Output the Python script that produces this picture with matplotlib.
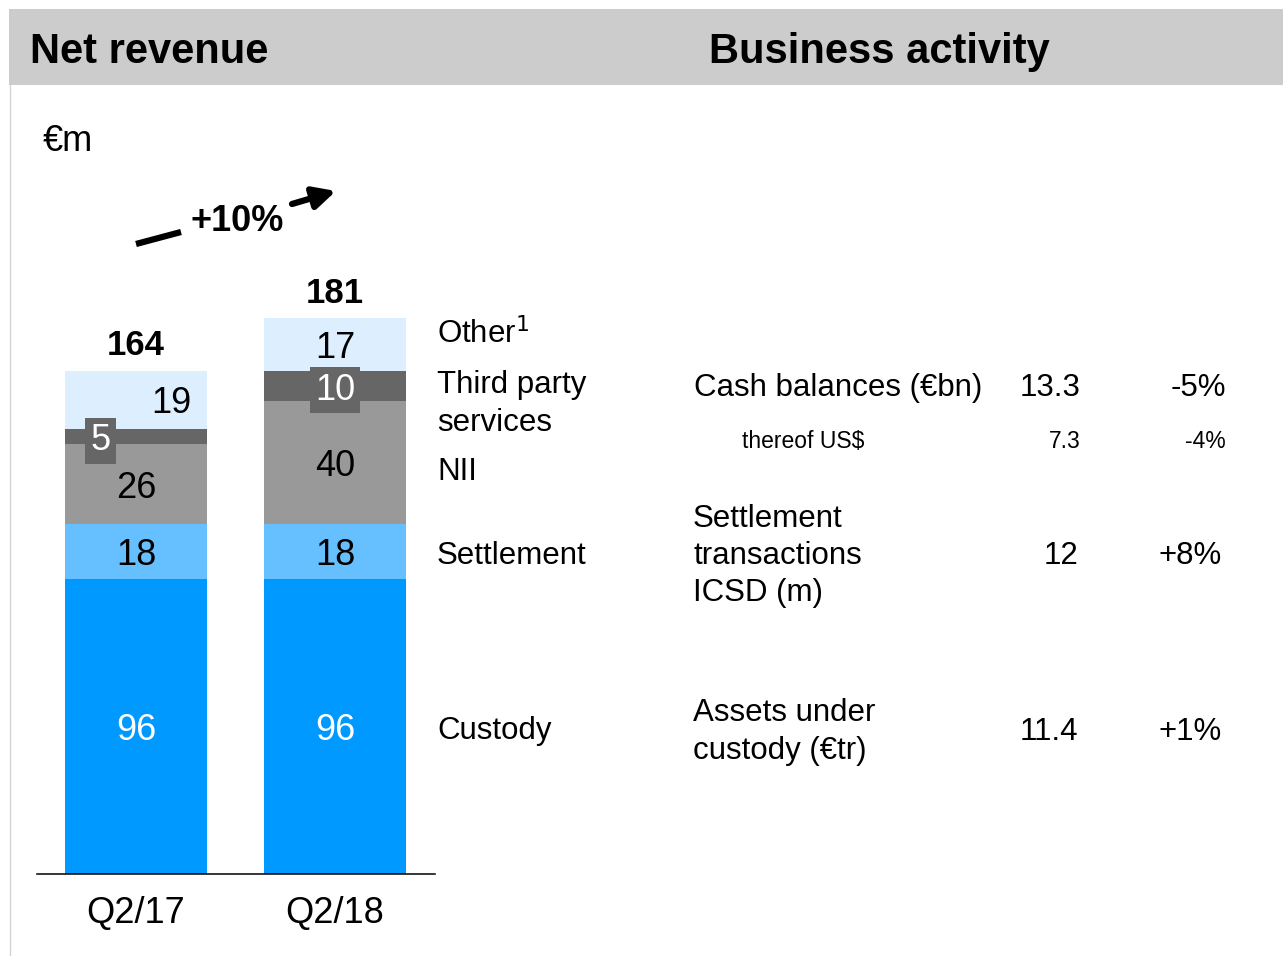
import numpy as np
import matplotlib
matplotlib.use("Agg")
import matplotlib.pyplot as plt
from matplotlib.patches import Rectangle

plt.rcParams['font.family'] = ['Liberation Sans', 'DejaVu Sans']

# data
quarters = ["Q2/17", "Q2/18"]
custody = [96, 96]
settlement = [18, 18]
nii = [26, 40]
third_party = [5, 10]
other = [19, 17]
totals = [164, 181]
growth = "+10%"

segments = [custody, settlement, nii, third_party, other]
seg_colors = ["#0099FF", "#66BFFF", "#999999", "#666666", "#DDEEFF"]
seg_text = ["white", "black", "black", "white", "black"]
seg_names = ["Custody", "Settlement", "NII", "Third party\nservices", "Other$^{1}$"]

kpi_names = ["Cash balances (€bn)", "thereof US$", "Settlement\ntransactions\nICSD (m)",
             "Assets under\ncustody (€tr)"]
kpi_values = ["13.3", "7.3", "12", "11.4"]
kpi_changes = ["-5%", "-4%", "+8%", "+1%"]

W, H = 1283, 956
fig = plt.figure(figsize=(W / 100, H / 100), dpi=100)

# bar axes: baseline at y=874 px, 3.07 px per unit
scale = 3.07
top_val = 250
ax_left, ax_right, base_y = 37, 435, 874
ax = fig.add_axes([ax_left / W, (H - base_y) / H, (ax_right - ax_left) / W,
                   top_val * scale / H])
ax.set_ylim(0, top_val)
x = np.arange(len(quarters))
ax.set_xlim(-99 / 199, (ax_right - 136) / 199)
bw = 142 / 199

bottom = np.zeros(len(quarters))
mids = []
for vals, col in zip(segments, seg_colors):
    ax.bar(x, vals, bw, bottom=bottom, color=col, edgecolor="none", zorder=2)
    mids.append(bottom + np.array(vals) / 2)
    bottom = bottom + np.array(vals)

for si, vals in enumerate(segments):
    for i, v in enumerate(vals):
        xi = x[i]
        kw = {}
        if si == 4 and i == 0:
            xi = x[i] + 0.18
        if si == 3:
            if i == 0:
                xi = x[i] - 0.18
            kw = dict(bbox=dict(boxstyle="square,pad=0.15", fc="#666666", ec="none"))
        ax.annotate(str(v), (xi, mids[si][i]), xytext=(0, -3), textcoords="offset points",
                    ha="center", va="center", fontsize=26, color=seg_text[si],
                    zorder=4, **kw)

for i, t in enumerate(totals):
    ax.annotate(str(t), (x[i], bottom[i]), xytext=(0, 6), textcoords="offset points",
                ha="center", va="bottom", fontsize=25, fontweight="bold")

ax.set_xticks(x)
ax.set_xticklabels(quarters, fontsize=26)
ax.tick_params(axis="x", length=0, pad=16)
ax.set_yticks([])
for s in ["top", "left", "right"]:
    ax.spines[s].set_visible(False)
ax.spines["bottom"].set_linewidth(1.1)
ax.patch.set_alpha(0)

# overlay in pixel coordinates
ov = fig.add_axes([0, 0, 1, 1])
ov.set_xlim(0, W)
ov.set_ylim(H, 0)
ov.axis("off")

ov.add_patch(Rectangle((9, 9), W - 9, 76, color="#CCCCCC", lw=0))
ov.plot([9.5, 9.5], [85, H], color="#D4D4D4", lw=1)
ov.text(30, 52, "Net revenue", fontsize=30, fontweight="bold", va="center")
ov.text(709, 52, "Business activity", fontsize=30, fontweight="bold", va="center")
ov.text(43, 141, "€m", fontsize=26, va="center")

# growth arrow
ov.plot([136, 181], [244, 232], color="black", lw=4.5, solid_capstyle="butt")
ov.annotate("", xy=(336, 191), xytext=(292, 204),
            arrowprops=dict(arrowstyle="-|>,head_length=0.6,head_width=0.3",
                            lw=4.5, color="black", mutation_scale=22,
                            shrinkA=0, shrinkB=0))
ov.text(237, 221, growth, fontsize=26, fontweight="bold", ha="center", va="center")

# segment names
name_y = [731, 556, 472, 404, 334]
for nm, yy in zip(seg_names, name_y):
    ov.text(437, yy, nm, fontsize=22.5, va="center", linespacing=1.32)

# business activity table
name_pos = [(694, 388, 22.5), (742, 442, 16.5), (693, 556, 22.5), (693, 732, 22.5)]
val_x = [1081, 1081, 1079, 1078]
chg_x = [1226, 1226, 1222, 1222]
for k in range(len(kpi_names)):
    nx, ny, fs = name_pos[k]
    ov.text(nx, ny, kpi_names[k], fontsize=fs, va="center", linespacing=1.32)
    ov.text(val_x[k], ny, kpi_values[k], fontsize=fs, va="center", ha="right")
    ov.text(chg_x[k], ny, kpi_changes[k], fontsize=fs, va="center", ha="right")

fig.savefig("out.png", dpi=100)
